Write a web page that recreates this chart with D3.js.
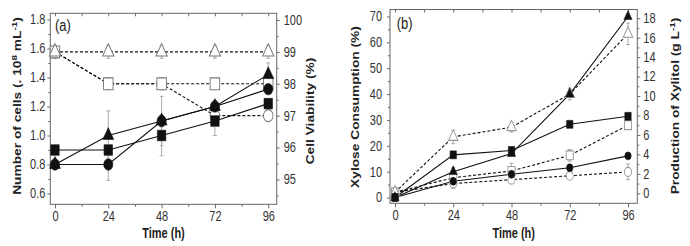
<!DOCTYPE html>
<html>
<head>
<meta charset="utf-8">
<script src="https://cdn.jsdelivr.net/npm/d3@7"></script>
<style>
  body { margin: 0; background: #fff; }
  svg text { font-family: "Liberation Sans", Arial, sans-serif; }
</style>
</head>
<body>
<div id="chart"></div>
<script>
// ---- data ----
const hours = [0, 24, 48, 72, 96];

// (a) number of cells (x10^8 / mL), left axis
const cellsTri = [0.80, 1.00, 1.10, 1.20, 1.42];
const cellsSq = [0.90, 0.90, 1.00, 1.10, 1.22];
const cellsCirc = [0.80, 0.80, 1.10, 1.20, 1.32];
const cellsTriErr = [0.03, 0.17, 0.04, 0.04, 0.08];
const cellsSqErr = [0.02, 0.02, 0.14, 0.10, 0.03];
const cellsCircErr = [0.03, 0.11, 0.17, 0.04, 0.03];

// (a) cell viability (%), right axis
const viabTri = [99, 99, 99, 99, 99];
const viabSq = [99, 98, 98, 98, 98];
const viabCirc = [99, 98, 98, 97, 97];
const viabTriErr = [0.2, 0.2, 0.2, 0.2, 0.2];

// (b) xylose consumption (%), left axis
const xyloseTri = [0, 10, 17, 40, 70];
const xyloseSq = [0, 16.5, 18.2, 28.3, 31.4];
const xyloseCirc = [0, 6.3, 9, 11.5, 16.1];
const xyloseTriErr = [0.5, 1.5, 0.6, 1, 0.5];

// (b) xylitol production (g/L), right axis
const xylitolTri = [0.1, 5.8, 6.8, 10.2, 16.4];
const xylitolSq = [0.1, 1.6, 2.3, 3.9, 7.0];
const xylitolCirc = [0.1, 1.0, 1.4, 1.8, 2.2];
const xylitolTriErr = [0.2, 0.7, 0.5, 0.6, 1.1];
const xylitolSqErr = [0.1, 0.3, 0.8, 0.6, 0.4];
const xylitolCircErr = [0.2, 0.5, 0.4, 0.3, 0.8];

const ticksCells = [0.6, 0.8, 1.0, 1.2, 1.4, 1.6, 1.8];
const ticksViab = [95, 96, 97, 98, 99, 100];
const ticksXylose = [0, 10, 20, 30, 40, 50, 60, 70];
const ticksXylitol = [0, 2, 4, 6, 8, 10, 12, 14, 16, 18];

// ---- drawing ----
const W = 690, H = 246;
const S = 1.25; // the figure is stretched vertically
const svg = d3.select("#chart").append("svg")
    .attr("width", W).attr("height", H);

const shapes = { tri: d3.symbolTriangle, sq: d3.symbolSquare, circ: d3.symbolCircle };

function stretchText(sel) {
    sel.attr("transform", `scale(1,${S})`);
}

function label(g, x, y, parts, opts) {
    const t = g.append("text")
        .attr("transform", `translate(${x},${y}) scale(1,${S})` + (opts.rotate ? " rotate(-90)" : ""))
        .attr("text-anchor", opts.anchor || "middle")
        .attr("dy", "0.35em")
        .attr("font-size", opts.size)
        .attr("font-weight", opts.bold ? "bold" : "normal")
        .attr("fill", "#222");
    let back = 0;
    parts.forEach(p => {
        if (typeof p === "string") {
            t.append("tspan").attr("dy", back || null).text(p);
            back = 0;
        } else {
            t.append("tspan").attr("font-size", opts.size * 0.72).attr("dy", -4).text(p.sup);
            back = 4;
        }
    });
}

function drawPanel(p) {
    const g = svg.append("g");
    const x = d3.scaleLinear().domain(p.xDomain).range([p.left, p.right]);
    const yL = d3.scaleLinear().domain(p.yLDomain).range([p.bottom, p.top]);
    const yR = d3.scaleLinear().domain(p.yRDomain).range([p.bottom, p.top]);

    // frame
    g.append("rect")
        .attr("x", p.left).attr("y", p.top)
        .attr("width", p.right - p.left).attr("height", p.bottom - p.top)
        .attr("fill", "none").attr("stroke", "#666");

    const styleAxis = ax => {
        ax.select(".domain").remove();
        ax.selectAll("line").attr("stroke", "#666");
        ax.selectAll("text").attr("fill", "#333").attr("font-size", 11)
            .attr("font-family", "Liberation Sans, Arial, sans-serif");
    };

    // bottom axis
    const xb = g.append("g").attr("transform", `translate(0,${p.bottom})`)
        .call(d3.axisBottom(x).tickValues(hours).tickSize(4).tickFormat(d3.format("d")));
    styleAxis(xb);
    xb.selectAll("text").attr("y", 6.5 / S).call(stretchText);
    const xm = g.append("g").attr("transform", `translate(0,${p.bottom})`)
        .call(d3.axisBottom(x).tickValues([12, 36, 60, 84]).tickSize(2.5).tickFormat(""));
    styleAxis(xm);
    const xt = g.append("g").attr("transform", `translate(0,${p.top})`)
        .call(d3.axisTop(x).tickValues(d3.range(0, 97, 12)).tickSize(-3).tickFormat(""));
    styleAxis(xt);

    // left axis
    const yl = g.append("g").attr("transform", `translate(${p.left},0)`)
        .call(d3.axisLeft(yL).tickValues(p.yLTicks).tickSize(3).tickPadding(p.padL).tickFormat(p.yLFormat));
    styleAxis(yl);
    yl.selectAll("text").call(stretchText);
    const ylm = g.append("g").attr("transform", `translate(${p.left},0)`)
        .call(d3.axisLeft(yL).tickValues(p.yLMinor).tickSize(2).tickFormat(""));
    styleAxis(ylm);

    // right axis
    const yr = g.append("g").attr("transform", `translate(${p.right},0)`)
        .call(d3.axisRight(yR).tickValues(p.yRTicks).tickSize(3).tickPadding(p.padR).tickFormat(d3.format("d")));
    styleAxis(yr);
    yr.selectAll("text").call(stretchText);
    const yrm = g.append("g").attr("transform", `translate(${p.right},0)`)
        .call(d3.axisRight(yR).tickValues(p.yRMinor).tickSize(2).tickFormat(""));
    styleAxis(yrm);

    const yOf = s => (s.axis === "right" ? yR : yL);

    // error bars
    p.series.forEach(s => {
        if (!s.err) return;
        const ys = yOf(s);
        hours.forEach((h, i) => {
            const e = s.err[i];
            if (!e) return;
            const cx = x(h), y1 = ys(s.values[i] - e), y2 = ys(s.values[i] + e);
            g.append("line").attr("x1", cx).attr("x2", cx).attr("y1", y1).attr("y2", y2)
                .attr("stroke", "#aaa").attr("stroke-width", 1);
            [y1, y2].forEach(yy => g.append("line")
                .attr("x1", cx - 2).attr("x2", cx + 2).attr("y1", yy).attr("y2", yy)
                .attr("stroke", "#aaa").attr("stroke-width", 1));
        });
    });

    // lines
    p.series.forEach(s => {
        const ys = yOf(s);
        const line = d3.line().x((d, i) => x(hours[i])).y(d => ys(d));
        g.append("path").datum(s.values)
            .attr("d", line)
            .attr("fill", "none")
            .attr("stroke", "#111")
            .attr("stroke-width", 1.1)
            .attr("stroke-dasharray", s.filled ? null : "3,2");
    });

    // markers
    p.series.forEach(s => {
        const ys = yOf(s);
        const sym = d3.symbol().type(shapes[s.shape]).size(s.size);
        g.selectAll(null).data(s.values).join("path")
            .attr("transform", (d, i) => `translate(${x(hours[i])},${ys(d)}) scale(1,${S})`)
            .attr("d", sym)
            .attr("fill", s.filled ? "#111" : "#fff")
            .attr("stroke", s.filled ? "#111" : p.openStroke)
            .attr("stroke-width", s.filled ? 0.5 : 1 / 1.1);
    });

    // texts
    label(g, p.tag[0], p.tag[1], [p.tagText], { size: 13, anchor: "start" });
    label(g, (p.left + p.right) / 2, 233, ["Time (h)"], { size: 11, bold: true });
    label(g, p.titleL[0], p.titleL[1], p.titleLText, { size: 11, bold: true, rotate: true });
    label(g, p.titleR[0], p.titleR[1], p.titleRText, { size: 11, bold: true, rotate: true });
}

drawPanel({
    left: 50.3, right: 276.7, top: 13.3, bottom: 204.3,
    xDomain: [-2.1, 99.8], yLDomain: [0.5255, 1.843], yRDomain: [94.22, 100.21],
    yLTicks: ticksCells, yLMinor: d3.range(0.7, 1.8, 0.2), yLFormat: d3.format(".1f"),
    yRTicks: ticksViab, yRMinor: [94.5, 95.5, 96.5, 97.5, 98.5, 99.5],
    padL: 2, padR: 4, openStroke: "#777",
    tag: [55, 25], tagText: "(a)",
    titleL: [16.7, 106], titleLText: ["Number of cells (. 10", { sup: "8" }, " mL", { sup: "-1" }, ")"],
    titleR: [310, 111], titleRText: ["Cell Viability (%)"],
    series: [
        { values: viabCirc, axis: "right", shape: "circ", filled: false, size: 72 },
        { values: viabSq, axis: "right", shape: "sq", filled: false, size: 90 },
        { values: viabTri, err: viabTriErr, axis: "right", shape: "tri", filled: false, size: 55 },
        { values: cellsSq, err: cellsSqErr, axis: "left", shape: "sq", filled: true, size: 72 },
        { values: cellsTri, err: cellsTriErr, axis: "left", shape: "tri", filled: true, size: 52 },
        { values: cellsCirc, err: cellsCircErr, axis: "left", shape: "circ", filled: true, size: 66 }
    ]
});

drawPanel({
    left: 390, right: 637.3, top: 9.5, bottom: 203.3,
    xDomain: [-2.06, 99.83], yLDomain: [-2.24, 72.7], yRDomain: [-1.03, 18.9],
    yLTicks: ticksXylose, yLMinor: d3.range(5, 70, 10), yLFormat: d3.format("d"),
    yRTicks: ticksXylitol, yRMinor: d3.range(1, 19, 2),
    padL: 5, padR: 3, openStroke: "#999",
    tag: [396.7, 23.3], tagText: "(b)",
    titleL: [355, 107], titleLText: ["Xylose Consumption (%)"],
    titleR: [675, 106], titleRText: ["Production of Xylitol (g L", { sup: "-1" }, ")"],
    series: [
        { values: xylitolCirc, err: xylitolCircErr, axis: "right", shape: "circ", filled: false, size: 40 },
        { values: xylitolSq, err: xylitolSqErr, axis: "right", shape: "sq", filled: false, size: 50 },
        { values: xylitolTri, err: xylitolTriErr, axis: "right", shape: "tri", filled: false, size: 39 },
        { values: xyloseSq, axis: "left", shape: "sq", filled: true, size: 40 },
        { values: xyloseTri, err: xyloseTriErr, axis: "left", shape: "tri", filled: true, size: 28 },
        { values: xyloseCirc, axis: "left", shape: "circ", filled: true, size: 32 }
    ]
});
</script>
</body>
</html>
